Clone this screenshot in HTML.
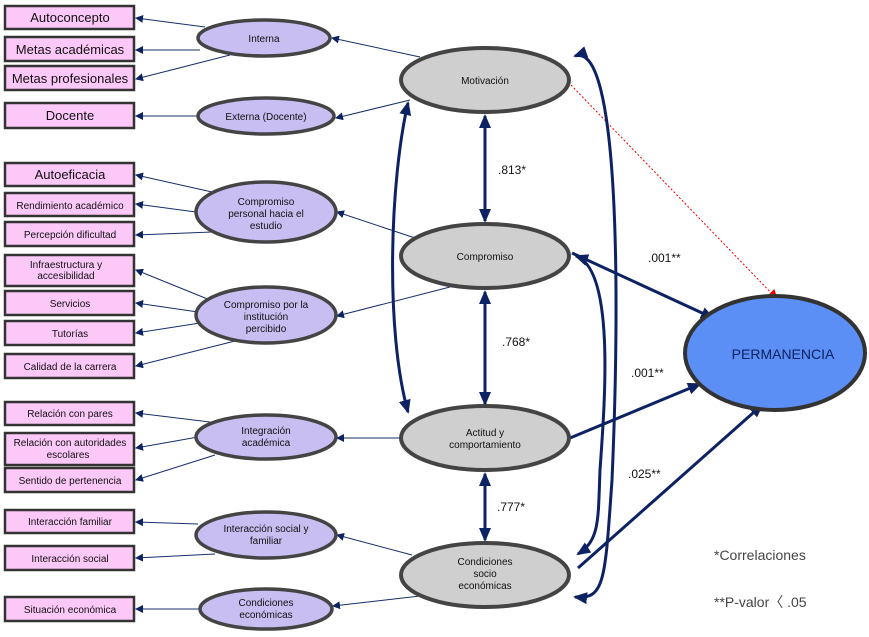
<!DOCTYPE html>
<html><head><meta charset="utf-8"><style>
body{margin:0;background:#fff}
svg{display:block;font-family:"Liberation Sans",sans-serif}
.b{fill:#fcc8f8;stroke:#333;stroke-width:2.5}
.bi{fill:none;stroke:#999;stroke-width:1}
.p{fill:#c8bef2;stroke:#444;stroke-width:3.5}
.g{fill:#cfcfcf;stroke:#444;stroke-width:4}
.l{stroke:#1a2f6a;stroke-width:1;fill:none}
.t{stroke:#0d2262;stroke-width:3;fill:none}
text{fill:#111}
</style></head><body>
<svg width="869" height="637" viewBox="0 0 869 637">
<defs>
<marker id="a" markerWidth="8" markerHeight="8" refX="7" refY="4" orient="auto" markerUnits="userSpaceOnUse"><path d="M0,0 L8,4 L0,8z" fill="#0d2262"/></marker>
<marker id="A" markerWidth="14" markerHeight="12" refX="12" refY="6" orient="auto" markerUnits="userSpaceOnUse"><path d="M0,0 L14,6 L0,12z" fill="#0d2262"/></marker>
<marker id="As" markerWidth="14" markerHeight="12" refX="2" refY="6" orient="auto" markerUnits="userSpaceOnUse"><path d="M14,0 L0,6 L14,12z" fill="#0d2262"/></marker>
<marker id="r" markerWidth="10" markerHeight="10" refX="9" refY="5" orient="auto" markerUnits="userSpaceOnUse"><path d="M0,0 L10,5 L0,10z" fill="#e00"/></marker>
</defs>
<!-- thin lines -->
<g class="l" marker-end="url(#a)">
<line x1="205" y1="27" x2="136" y2="18"/>
<line x1="200" y1="50" x2="136" y2="50"/>
<line x1="230" y1="55" x2="136" y2="79"/>
<line x1="198" y1="116" x2="136" y2="116"/>
<line x1="212" y1="192" x2="136" y2="175"/>
<line x1="196" y1="212" x2="136" y2="204"/>
<line x1="212" y1="232" x2="136" y2="235"/>
<line x1="210" y1="300" x2="136" y2="270"/>
<line x1="198" y1="312" x2="136" y2="303"/>
<line x1="200" y1="323" x2="136" y2="333"/>
<line x1="235" y1="341" x2="136" y2="366"/>
<line x1="210" y1="422" x2="136" y2="413"/>
<line x1="198" y1="437" x2="136" y2="448"/>
<line x1="215" y1="455" x2="136" y2="480"/>
<line x1="198" y1="524" x2="136" y2="522"/>
<line x1="215" y1="554" x2="136" y2="558"/>
<line x1="200" y1="609" x2="136" y2="609"/>
<line x1="420" y1="57" x2="332" y2="38"/>
<line x1="410" y1="100" x2="336" y2="118"/>
<line x1="415" y1="238" x2="337" y2="212"/>
<line x1="450" y1="287" x2="337" y2="316"/>
<line x1="402" y1="438" x2="337" y2="438"/>
<line x1="412" y1="555" x2="337" y2="535"/>
<line x1="420" y1="596" x2="333" y2="606"/>
</g>
<line x1="571" y1="85" x2="777" y2="299" stroke="#e00" stroke-width="1" stroke-dasharray="2,2" marker-end="url(#r)"/>
<!-- thick -->
<g class="t">
<line x1="485" y1="116" x2="485" y2="221" marker-start="url(#As)" marker-end="url(#A)"/>
<line x1="485" y1="292" x2="485" y2="404" marker-start="url(#As)" marker-end="url(#A)"/>
<line x1="485" y1="474" x2="485" y2="540" marker-start="url(#As)" marker-end="url(#A)"/>
<path d="M408,103 C390,180 385,330 408,412" marker-start="url(#As)" marker-end="url(#A)"/>
<path d="M575,56 C620,40 620,300 612,480 C605,580 605,600 575,597" marker-start="url(#As)" marker-end="url(#A)"/>
<path d="M576,256 C615,270 605,400 600,470 C598,520 600,540 578,554" marker-start="url(#As)" marker-end="url(#A)"/>
<line x1="572" y1="253" x2="713" y2="318" marker-end="url(#A)"/>
<line x1="570" y1="438" x2="700" y2="384" marker-end="url(#A)"/>
<line x1="578" y1="568" x2="762" y2="405" marker-end="url(#A)"/>
</g>
<!-- boxes -->
<g font-size="12" text-anchor="middle">
<g class="b">
<rect x="5" y="6" width="129" height="23"/><rect x="5" y="37" width="129" height="24"/><rect x="5" y="66" width="129" height="24"/><rect x="5" y="103" width="129" height="25"/>
<rect x="5" y="163" width="129" height="23"/><rect x="5" y="193" width="129" height="23"/><rect x="5" y="222" width="129" height="24"/>
<rect x="5" y="255" width="129" height="31"/><rect x="5" y="291" width="129" height="24"/><rect x="5" y="321" width="129" height="24"/><rect x="5" y="354" width="129" height="24"/>
<rect x="5" y="402" width="129" height="23"/><rect x="5" y="433" width="129" height="32"/><rect x="5" y="468" width="129" height="24"/>
<rect x="5" y="510" width="129" height="23"/><rect x="5" y="546" width="129" height="24"/><rect x="5" y="597" width="129" height="24"/>
</g>
<text x="70" y="22" font-size="13">Autoconcepto</text>
<text x="70" y="54" font-size="13">Metas académicas</text>
<text x="70" y="83" font-size="13">Metas profesionales</text>
<text x="70" y="120" font-size="13">Docente</text>
<text x="70" y="179" font-size="13">Autoeficacia</text>
<text x="70" y="209" font-size="10">Rendimiento académico</text>
<text x="70" y="238" font-size="10">Percepción dificultad</text>
<text x="66" y="268" font-size="10">Infraestructura y</text><text x="66" y="279" font-size="10">accesibilidad</text>
<text x="70" y="307" font-size="10">Servicios</text>
<text x="70" y="337" font-size="10">Tutorías</text>
<text x="70" y="370" font-size="10">Calidad de la carrera</text>
<text x="70" y="417" font-size="10">Relación con pares</text>
<text x="70" y="446" font-size="10">Relación con autoridades</text><text x="68" y="458" font-size="10">escolares</text>
<text x="70" y="484" font-size="10">Sentido de pertenencia</text>
<text x="70" y="525" font-size="10">Interacción familiar</text>
<text x="70" y="562" font-size="10">Interacción social</text>
<text x="70" y="613" font-size="10">Situación económica</text>
</g>
<!-- purple ellipses -->
<g class="p">
<ellipse cx="264" cy="38" rx="66" ry="18"/><ellipse cx="266" cy="116" rx="68" ry="18"/>
<ellipse cx="266" cy="212" rx="70" ry="30"/><ellipse cx="266" cy="315" rx="70" ry="28"/>
<ellipse cx="266" cy="437" rx="70" ry="22"/><ellipse cx="266" cy="535" rx="70" ry="23"/>
<ellipse cx="266" cy="609" rx="66" ry="20"/>
</g>
<g font-size="10" text-anchor="middle">
<text x="264" y="42">Interna</text>
<text x="266" y="120">Externa (Docente)</text>
<text x="266" y="205">Compromiso</text><text x="266" y="217">personal hacia el</text><text x="266" y="229">estudio</text>
<text x="266" y="308">Compromiso por la</text><text x="266" y="320">institución</text><text x="266" y="332">percibido</text>
<text x="266" y="434">Integración</text><text x="266" y="446">académica</text>
<text x="266" y="532">Interacción social y</text><text x="266" y="544">familiar</text>
<text x="266" y="606">Condiciones</text><text x="266" y="618">económicas</text>
</g>
<!-- gray ellipses -->
<g class="g">
<ellipse cx="485" cy="80" rx="84" ry="32"/><ellipse cx="485" cy="256" rx="84" ry="32"/>
<ellipse cx="485" cy="438" rx="84" ry="32"/><ellipse cx="485" cy="575" rx="84" ry="32"/>
</g>
<g font-size="10" text-anchor="middle" style="fill:#1a2a5a">
<text x="485" y="84">Motivación</text>
<text x="485" y="260">Compromiso</text>
<text x="485" y="436">Actitud y</text><text x="485" y="448">comportamiento</text>
<text x="485" y="565">Condiciones</text><text x="485" y="577">socio</text><text x="485" y="589">económicas</text>
</g>
<ellipse cx="775" cy="353" rx="90" ry="57" fill="#5b8ff5" stroke="#333" stroke-width="4"/>
<text x="783" y="359" font-size="14" text-anchor="middle" style="fill:#0d2262">PERMANENCIA</text>
<g font-size="12">
<text x="498" y="174">.813*</text>
<text x="502" y="346">.768*</text>
<text x="497" y="511">.777*</text>
<text x="648" y="262">.001**</text>
<text x="631" y="377">.001**</text>
<text x="628" y="478">.025**</text>
<text x="714" y="560" font-size="14" style="fill:#444">*Correlaciones</text>
<text x="714" y="607" font-size="14" style="fill:#444">**P-valor〈 .05</text>
</g>
</svg>
</body></html>
